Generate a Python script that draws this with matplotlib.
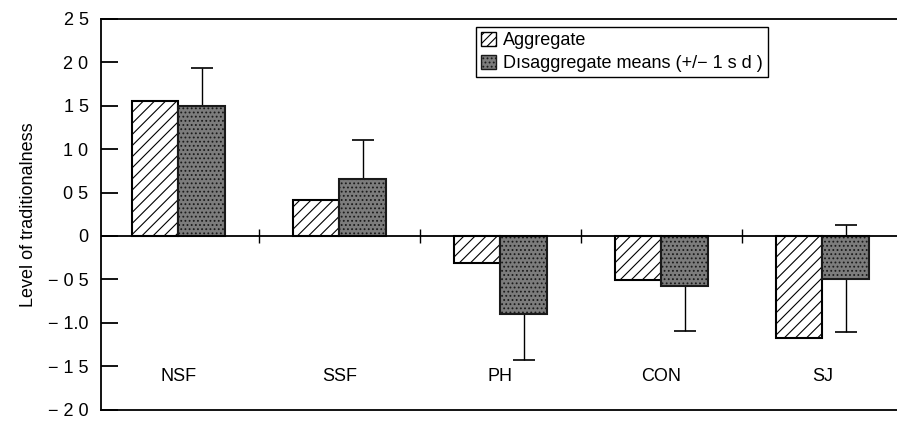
import numpy as np
import matplotlib
matplotlib.use('Agg')
import matplotlib.pyplot as plt
from matplotlib.patches import Patch

plt.rcParams['font.family'] = ['Liberation Sans', 'DejaVu Sans']

# Data
categories = ['NSF', 'SSF', 'PH', 'CON', 'SJ']
aggregate = [1.55, 0.41, -0.31, -0.51, -1.17]
disaggregate = [1.50, 0.66, -0.90, -0.58, -0.49]
disagg_sd = [0.43, 0.44, 0.53, 0.51, 0.62]

ytick_vals = [2.5, 2.0, 1.5, 1.0, 0.5, 0, -0.5, -1.0, -1.5, -2.0]
ytick_labels = ['2 5', '2 0', '1 5', '1 0', '0 5', '0',
                '\u2212 0 5', '\u2212 1.0', '\u2212 1 5', '\u2212 2 0']

fig = plt.figure(figsize=(8.97, 4.21), dpi=100)
ax = fig.add_axes([0.1126, 0.027, 0.8874, 0.928])

x = np.arange(len(categories))
w = 0.29

# error bars behind the bars, so only the outer part shows
ax.errorbar(x + w / 2, disaggregate, yerr=disagg_sd, fmt='none',
            ecolor='black', elinewidth=1.0, capsize=8, capthick=1.2, zorder=1)

plt.rcParams['hatch.linewidth'] = 0.8
ax.bar(x - w / 2, aggregate, w, facecolor='white', edgecolor='black',
       hatch='///', linewidth=1.5, zorder=2)
ax.bar(x + w / 2, disaggregate, w, facecolor='#7c7c7c', edgecolor='#1a1a1a',
       hatch='....', linewidth=1.5, zorder=2)

ax.axhline(0, color='black', linewidth=1.3, zorder=3)
bounds = x[:-1] + 0.5
ax.plot(bounds, np.zeros_like(bounds), linestyle='none', marker='|',
        markersize=10, color='black', markeredgewidth=1, zorder=3)

for xi, name in zip(x, categories):
    ax.text(xi, -1.62, name, ha='center', va='center', fontsize=13)

ax.set_xlim(-0.481, 4.463)
ax.set_ylim(-2.0, 2.5)
ax.set_xticks([])
ax.set_yticks(ytick_vals)
ax.set_yticklabels(ytick_labels, fontsize=13)
ax.tick_params(axis='y', direction='in', length=12, width=1.3, pad=9)
ax.spines['right'].set_visible(False)
for s in ['left', 'top', 'bottom']:
    ax.spines[s].set_linewidth(1.3)

ax.set_ylabel('Level of traditionalness', fontsize=13, labelpad=8)

handles = [Patch(facecolor='white', edgecolor='black', hatch='////', label='Aggregate'),
           Patch(facecolor='#7c7c7c', edgecolor='#1a1a1a', hatch='....',
                 label='D\u0131saggregate means (+/\u2212 1 s d )')]
leg = ax.legend(handles=handles, loc='upper left', bbox_to_anchor=(0.471, 0.98),
                fontsize=13, fancybox=False, edgecolor='black', framealpha=1,
                handlelength=0.8, handleheight=0.8, handletextpad=0.4,
                borderpad=0.3, labelspacing=0.3, borderaxespad=0)
leg.get_frame().set_linewidth(1.0)

fig.savefig('out.png', dpi=100)
